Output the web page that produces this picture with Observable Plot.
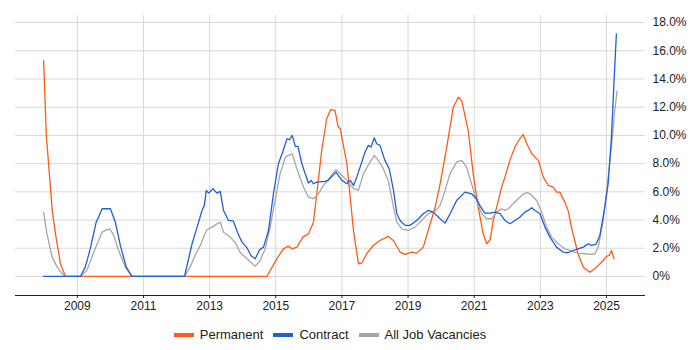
<!DOCTYPE html>
<html>
<head>
<meta charset="utf-8">
<script src="https://cdn.jsdelivr.net/npm/d3@7"></script>
<script src="https://cdn.jsdelivr.net/npm/@observablehq/plot@0.6"></script>
<style>
  html, body { margin: 0; padding: 0; background: #fff; }
  body { width: 700px; height: 350px; overflow: hidden; font-family: "Liberation Sans", Arial, sans-serif; }
  #legend { display: flex; justify-content: center; align-items: center; font-size: 13px; color: #222; margin-top: 7px; padding-right: 40px; }
  .item { display: flex; align-items: center; margin: 0 5px; }
  .sw { width: 20px; height: 4px; margin-right: 6px; }
</style>
</head>
<body>
<div id="chart"></div>
<div id="legend"></div>
<script>
const seriesNames = ["Permanent", "Contract", "All Job Vacancies"];
const seriesColors = ["#FF5A14", "#1F5FDB", "#A6A6A6"];

const permYears = [2007.98,2008.06,2008.24,2008.34,2008.49,2008.64,2014.73,2015.03,2015.23,2015.38,2015.49,2015.64,2015.82,2015.99,2016.14,2016.24,2016.39,2016.54,2016.66,2016.79,2016.89,2016.95,2017.15,2017.35,2017.5,2017.6,2017.75,2017.95,2018.15,2018.4,2018.56,2018.76,2018.91,2019.11,2019.26,2019.46,2019.61,2019.82,2019.97,2020.17,2020.37,2020.52,2020.62,2020.82,2020.97,2021.12,2021.27,2021.38,2021.48,2021.58,2021.68,2021.83,2021.93,2022.08,2022.23,2022.38,2022.48,2022.59,2022.74,2022.94,2023.09,2023.24,2023.39,2023.49,2023.59,2023.74,2023.84,2023.94,2024.04,2024.14,2024.3,2024.5,2024.7,2024.9,2025.0,2025.08,2025.15,2025.23];
const permValues = [15.3,10.1,4.7,3.0,0.9,0,0,1.25,1.96,2.15,1.96,2.08,2.79,3.03,3.85,5.86,8.94,11.18,11.82,11.77,10.59,10.47,7.99,3.26,0.9,0.94,1.61,2.2,2.55,2.84,2.55,1.72,1.56,1.72,1.65,2.08,3.26,4.91,6.57,9.17,12.0,12.7,12.48,10.35,7.28,4.91,3.03,2.32,2.6,3.97,4.91,6.33,7.04,8.23,9.17,9.76,10.07,9.41,8.7,8.23,7.04,6.45,6.33,5.98,5.98,5.27,4.68,3.5,2.55,1.61,0.66,0.3,0.66,1.13,1.42,1.49,1.84,1.25];

const contYears = [2007.98,2009.09,2009.24,2009.39,2009.57,2009.64,2009.75,2010.0,2010.15,2010.3,2010.48,2010.65,2012.24,2012.47,2012.62,2012.77,2012.84,2012.9,2012.97,2013.1,2013.22,2013.32,2013.42,2013.57,2013.72,2013.84,2013.98,2014.13,2014.25,2014.38,2014.51,2014.63,2014.78,2014.93,2015.08,2015.21,2015.34,2015.41,2015.5,2015.59,2015.67,2015.79,2015.89,2015.99,2016.07,2016.14,2016.24,2016.49,2016.59,2016.82,2017.0,2017.15,2017.25,2017.35,2017.45,2017.55,2017.7,2017.8,2017.88,2017.98,2018.05,2018.15,2018.3,2018.43,2018.56,2018.66,2018.76,2018.91,2019.06,2019.26,2019.46,2019.61,2019.76,2019.97,2020.12,2020.27,2020.47,2020.72,2020.92,2021.07,2021.17,2021.32,2021.48,2021.63,2021.78,2021.93,2022.08,2022.23,2022.38,2022.53,2022.63,2022.74,2022.84,2022.99,2023.14,2023.29,2023.49,2023.69,2023.84,2023.99,2024.14,2024.3,2024.45,2024.55,2024.68,2024.8,2024.95,2025.05,2025.15,2025.22,2025.3];
const contValues = [0,0,0.66,1.96,3.85,4.2,4.8,4.8,3.85,2.2,0.66,0,0,2.32,3.5,4.68,5.04,6.1,5.91,6.22,5.91,6.03,4.68,3.97,3.92,3.14,2.43,2.03,1.49,1.25,1.89,2.08,3.26,5.86,7.99,8.82,9.76,9.69,10.0,9.22,9.22,7.99,7.28,6.62,6.81,6.57,6.69,6.74,6.81,7.4,6.81,6.57,6.81,6.45,7.04,7.75,8.82,9.29,9.17,9.83,9.41,9.29,8.23,7.64,6.1,4.45,3.97,3.62,3.62,3.97,4.45,4.68,4.56,4.09,3.78,4.45,5.39,5.98,5.86,5.51,5.04,4.49,4.49,4.56,4.45,3.97,3.74,3.97,4.2,4.56,4.68,4.87,4.68,4.45,3.5,2.79,2.08,1.72,1.68,1.84,1.96,2.08,2.32,2.2,2.27,2.91,4.91,6.57,9.88,13.4,17.2];

const allYears = [2007.98,2008.08,2008.24,2008.39,2008.54,2008.64,2009.09,2009.29,2009.44,2009.6,2009.75,2009.85,2009.98,2010.1,2010.25,2010.45,2010.65,2012.24,2012.41,2012.56,2012.72,2012.84,2012.92,2013.07,2013.2,2013.32,2013.42,2013.62,2013.77,2013.92,2014.13,2014.38,2014.53,2014.68,2014.83,2014.98,2015.13,2015.29,2015.38,2015.5,2015.59,2015.69,2015.84,2015.99,2016.14,2016.29,2016.44,2016.64,2016.82,2017.0,2017.15,2017.35,2017.5,2017.65,2017.85,2017.98,2018.1,2018.25,2018.4,2018.56,2018.66,2018.81,2019.01,2019.21,2019.41,2019.61,2019.82,2019.97,2020.12,2020.27,2020.47,2020.62,2020.77,2020.92,2021.07,2021.23,2021.38,2021.53,2021.68,2021.83,2021.93,2022.03,2022.18,2022.33,2022.48,2022.59,2022.69,2022.89,2023.04,2023.19,2023.34,2023.54,2023.74,2023.94,2024.14,2024.35,2024.5,2024.65,2024.75,2024.9,2025.02,2025.15,2025.25,2025.32];
const allValues = [4.56,3.03,1.37,0.66,0.19,0,0,0.43,1.37,2.32,3.14,3.26,3.38,2.91,1.84,0.66,0,0,0.66,1.49,2.2,2.91,3.31,3.5,3.69,3.85,3.14,2.79,2.43,1.72,1.25,0.73,1.13,1.96,3.5,5.39,7.28,8.46,8.58,8.7,7.99,7.28,6.33,5.62,5.51,5.86,6.45,7.04,7.57,7.16,6.81,6.22,6.1,7.28,8.11,8.58,8.23,7.64,6.81,4.91,3.85,3.38,3.26,3.5,3.97,4.45,4.63,5.04,6.1,7.28,8.11,8.23,7.75,6.57,5.39,4.45,4.09,4.09,4.56,4.8,4.68,4.8,5.16,5.51,5.82,5.94,5.86,5.39,4.56,3.5,2.79,2.32,1.96,1.8,1.65,1.61,1.56,1.61,2.08,3.97,6.33,9.17,11.77,13.14];

const xTicks = [2009, 2011, 2013, 2015, 2017, 2019, 2021, 2023, 2025];
const yTicks = [0, 2, 4, 6, 8, 10, 12, 14, 16, 18];

const toRows = (ys, vs, s) => ys.map((y, i) => ({year: y, value: vs[i], series: s}));
const perm = toRows(permYears, permValues, seriesNames[0]);
const cont = toRows(contYears, contValues, seriesNames[1]);
const all = toRows(allYears, allValues, seriesNames[2]);

const chart = Plot.plot({
  width: 700,
  height: 320,
  marginLeft: 15,
  marginRight: 55,
  marginTop: 15,
  marginBottom: 25,
  style: {fontFamily: "'Liberation Sans', Arial, sans-serif", fontSize: "12px", color: "#222"},
  x: {domain: [2007.13, 2026.18], label: null},
  y: {domain: [-1.35, 18.5], label: null},
  marks: [
    Plot.gridY(yTicks, {stroke: "#d8d8d8", strokeOpacity: 1}),
    Plot.gridX(xTicks, {stroke: "#d8d8d8", strokeOpacity: 1}),
    Plot.axisY(yTicks, {anchor: "right", label: null, tickSize: 0, tickPadding: 7, tickFormat: d => d === 0 ? "0%" : d.toFixed(1) + "%", fontSize: 12}),
    Plot.axisX(xTicks, {label: null, tickSize: 3, tickPadding: 3, tickFormat: d => String(d), fontSize: 12}),
    Plot.ruleY([-1.35], {stroke: "#222", strokeWidth: 1}),
    Plot.line(perm, {x: "year", y: "value", stroke: seriesColors[0], strokeWidth: 1.3}),
    Plot.line(all, {x: "year", y: "value", stroke: seriesColors[2], strokeWidth: 1.3}),
    Plot.line(cont, {x: "year", y: "value", stroke: seriesColors[1], strokeWidth: 1.3})
  ]
});
document.getElementById("chart").appendChild(chart);

const legend = document.getElementById("legend");
seriesNames.forEach((n, i) => {
  const it = document.createElement("div");
  it.className = "item";
  it.innerHTML = `<span class="sw" style="background:${seriesColors[i]}"></span><span>${n}</span>`;
  legend.appendChild(it);
});
</script>
</body>
</html>
